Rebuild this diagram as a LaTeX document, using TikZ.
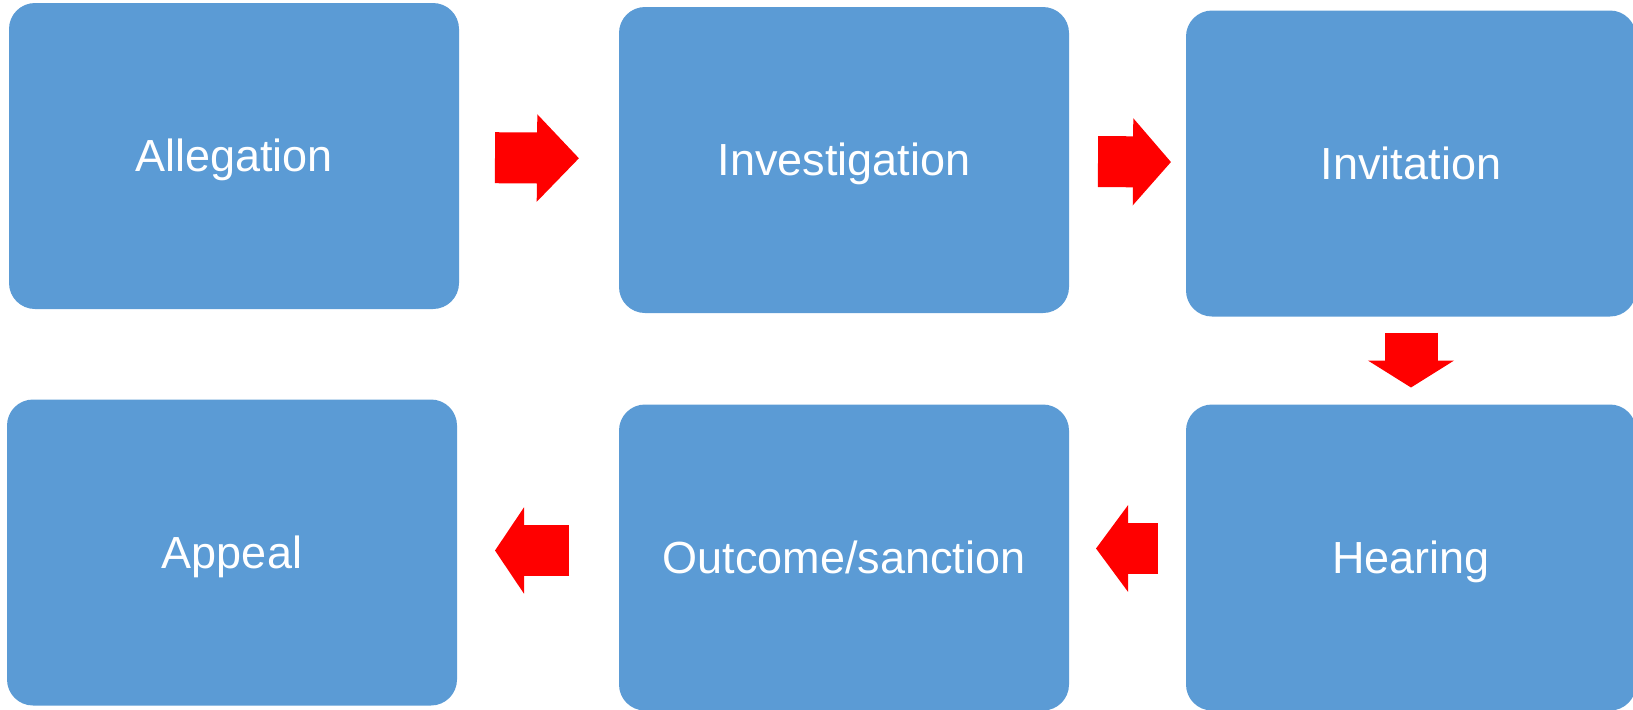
\documentclass[tikz,border=0pt]{standalone}
\usepackage{fontspec}
\setmainfont{Liberation Sans}
\usepackage{xcolor}
\usetikzlibrary{arrows.meta, positioning}

\definecolor{stageblue}{HTML}{5B9BD5}

\begin{document}
\begin{tikzpicture}[
  stage/.style={rectangle, rounded corners=13pt, fill=stageblue,
                text=white, minimum width=225pt, minimum height=153pt,
                inner sep=0pt, outer sep=0pt,
                text height=20.4pt, text depth=4.8pt,
                font=\fontsize{22.5}{27}\selectfont},
  blockarrow/.style={draw=red, line width=25.5pt,
                     -{Triangle[length=#1, width=42.5pt]}},
  blockarrow/.default=19pt
]
\useasboundingbox (0,0) rectangle (816.5pt,-354.5pt);

\node[stage] (alleg) at (117pt,-78pt) {Allegation};
\node[stage, right=80pt of alleg, yshift=-2pt] (invest) {Investigation};
\node[stage, right=58.5pt of invest, yshift=-1.75pt] (invit) {Invitation};
\node[stage, below=44pt of invit] (hear) {Hearing};
\node[stage, left=58.5pt of hear] (outc) {Outcome/sanction};
\node[stage, left=81pt of outc, yshift=2.5pt] (appeal) {Appeal};

\draw[blockarrow=21pt, shorten <=18pt, shorten >=20pt] (alleg) -- (invest);
\draw[blockarrow=19pt, shorten <=14.5pt, shorten >=7.5pt] (invest) -- (invit);
\draw[blockarrow=13.5pt, line width=26.5pt, shorten <=8pt, shorten >=8.5pt] (invit) -- (hear);
\draw[blockarrow=16pt, shorten <=14pt, shorten >=13.5pt]
  ([yshift=4.5pt]hear.west) -- ([yshift=4.5pt]outc.east);
\draw[blockarrow=14.5pt, shorten <=25pt, shorten >=19pt]
  ([yshift=3.5pt]outc.west) -- ([yshift=1pt]appeal.east);
\end{tikzpicture}
\end{document}
